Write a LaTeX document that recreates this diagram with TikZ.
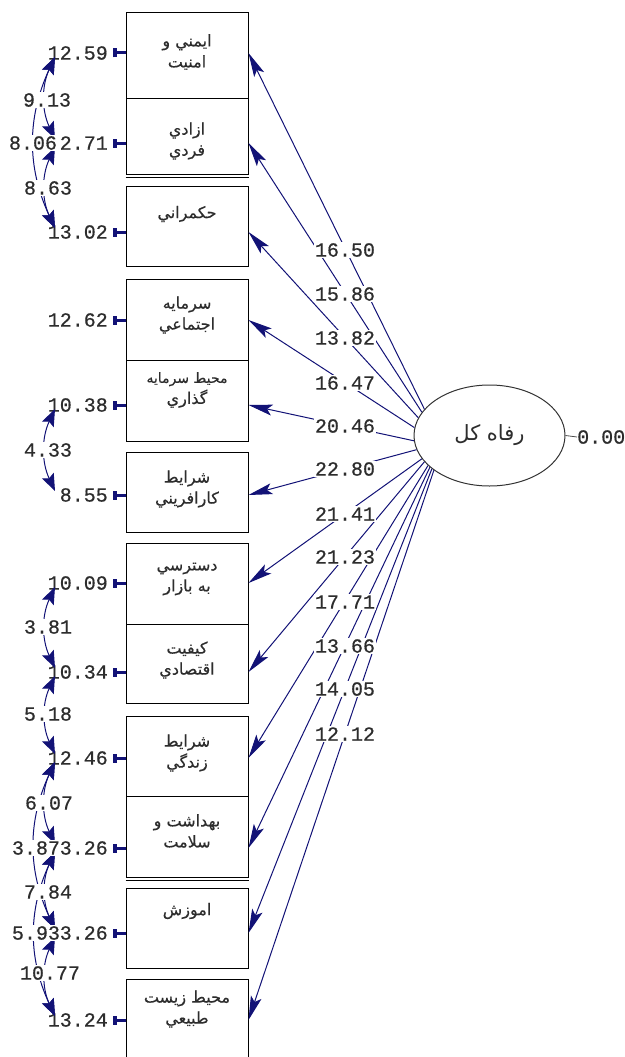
\documentclass[tikz,border=0pt]{standalone}
\usepackage{fontspec}
\usetikzlibrary{arrows.meta,shapes.geometric}
\TeXXeTstate=1
\newfontfamily\arabicfont[Script=Arabic,FakeBold=0.4]{DejaVu Sans}
\newfontfamily\latfont[Script=Arabic]{DejaVu Sans}
\newfontfamily\numfont[FakeBold=0.6]{Liberation Mono}
\definecolor{navy}{RGB}{18,18,118}
\definecolor{txt}{RGB}{45,45,45}
\tikzset{
  obs/.style={draw=black, line width=1pt, minimum width=122pt, inner sep=0pt},
  fa/.style={font=\arabicfont\fontsize{16}{21}\selectfont, text=txt, align=center, inner sep=0pt},
  num/.style={font=\numfont\fontsize{20}{20}\selectfont, text=txt, inner sep=0pt},
  lbl/.style={num, fill=white, inner sep=1.2pt},
  load/.style={draw=navy, line width=1pt, -{Stealth[length=24pt,width=11pt,inset=5pt]}},
  errarr/.style={draw=navy, line width=3pt, {Bar[width=9pt,line width=4pt]}-},
  cov/.style={draw=navy, line width=1pt, {Stealth[length=17pt,width=13pt,inset=3pt]}-{Stealth[length=17pt,width=13pt,inset=3pt]}, bend right=25},
  latent/.style={ellipse, draw=black!80, line width=1pt, minimum width=151pt, minimum height=101pt, inner sep=0pt},
}
\begin{document}
\begin{tikzpicture}[x=1pt,y=1pt]
\useasboundingbox (0,0) rectangle (624,-1057);
% observed boxes
\node[obs, minimum height=85pt] (b1) at (187,-55.5) {};
\node[obs, minimum height=76pt] (b2) at (187,-136) {};
\node[obs, minimum height=80pt] (b3) at (187,-226) {};
\node[obs, minimum height=81pt] (b4) at (187,-319.5) {};
\node[obs, minimum height=81pt] (b5) at (187,-400.5) {};
\node[obs, minimum height=80pt] (b6) at (187,-492) {};
\node[obs, minimum height=81pt] (b7) at (187,-583.5) {};
\node[obs, minimum height=79pt] (b8) at (187,-663.5) {};
\node[obs, minimum height=80pt] (b9) at (187,-756) {};
\node[obs, minimum height=81pt] (b10) at (187,-836.5) {};
\node[obs, minimum height=80pt] (b11) at (187,-928) {};
\node[obs, minimum height=82pt] (b12) at (187,-1020) {};
\draw[line width=1pt] ([yshift=-3pt]b2.south west) -- ([yshift=-3pt]b2.south east);
\draw[line width=1pt] ([yshift=-3pt]b10.south west) -- ([yshift=-3pt]b10.south east);
% box texts
\node[fa] (t1) at (187,-52) {\beginR ايمني و\endR\\\beginR امنيت\endR};
\node[fa] (t2) at (187,-141) {\beginR ازادي\endR\\\beginR فردي\endR};
\node[fa] (t3) at (187,-214) {\beginR حکمراني\endR};
\node[fa] (t4) at (187,-315) {\beginR سرمايه\endR\\\beginR اجتماعي\endR};
\node[fa] (t5) at (187,-390) {{\fontsize{14}{21}\selectfont\beginR محيط سرمايه\endR}\\\beginR گذاري\endR};
\node[fa] (t6) at (187,-489) {\beginR شرايط\endR\\\beginR کارافريني\endR};
\node[fa] (t7) at (187,-579) {\beginR دسترسي\endR\\\beginR به بازار\endR};
\node[fa] (t8) at (187,-660) {\beginR کيفيت\endR\\\beginR اقتصادي\endR};
\node[fa] (t9) at (187,-753) {\beginR شرايط\endR\\\beginR زندگي\endR};
\node[fa] (t10) at (187,-831) {\beginR بهداشت و\endR\\\beginR سلامت\endR};
\node[fa] (t11) at (187,-911) {\beginR اموزش\endR};
\node[fa] (t12) at (187,-1009) {\beginR محيط زيست\endR\\\beginR طبيعي\endR};
% latent
\node[latent] (ell) at (489.5,-435.5) {\latfont\fontsize{21}{21}\selectfont\color{txt}\beginR رفاه کل\endR};
\node[num, anchor=west] (z) at (577,-437) {0.00};
\draw[black!70, line width=0.8pt] (ell.east) -- (z.west);
% error variances
\node[num, anchor=east] (e1) at (108,-53) {12.59};
\node[num, anchor=east] (e2) at (108,-143) {2.71};
\node[num, anchor=east] (e3) at (108,-232) {13.02};
\node[num, anchor=east] (e4) at (108,-320) {12.62};
\node[num, anchor=east] (e5) at (108,-405) {10.38};
\node[num, anchor=east] (e6) at (108,-495) {8.55};
\node[num, anchor=east] (e7) at (108,-583) {10.09};
\node[num, anchor=east] (e8) at (108,-672) {10.34};
\node[num, anchor=east] (e9) at (108,-758) {12.46};
\node[num, anchor=east] (e10) at (108,-848) {3.26};
\node[num, anchor=east] (e11) at (108,-933) {3.26};
\node[num, anchor=east] (e12) at (108,-1020) {13.24};
\foreach \i in {1,...,12}{
  \draw[errarr] ([xshift=5pt]e\i.east) -- (b\i.west |- e\i.east);
}
% covariance end points
\foreach \i/\y in {1/53,2/143,3/232,5/405,6/495,7/583,8/672,9/758,10/848,11/933,12/1020}{
  \coordinate (c\i) at (55,-\y);
}
\draw[cov] ([yshift=-4pt]c1) to ([yshift=4pt]c2);
\draw[cov] ([yshift=-4pt]c1) to ([yshift=4pt]c3);
\draw[cov] ([yshift=-4pt]c2) to ([yshift=4pt]c3);
\draw[cov] ([yshift=-4pt]c5) to ([yshift=4pt]c6);
\draw[cov] ([yshift=-4pt]c7) to ([yshift=4pt]c8);
\draw[cov] ([yshift=-4pt]c8) to ([yshift=4pt]c9);
\draw[cov] ([yshift=-4pt]c9) to ([yshift=4pt]c10);
\draw[cov] ([yshift=-4pt]c9) to ([yshift=4pt]c11);
\draw[cov] ([yshift=-4pt]c10) to ([yshift=4pt]c11);
\draw[cov] ([yshift=-4pt]c10) to ([yshift=4pt]c12);
\draw[cov] ([yshift=-4pt]c11) to ([yshift=4pt]c12);
\node[lbl] (k1) at (47,-100) {9.13};
\node[lbl] (k2) at (33,-143) {8.06};
\node[lbl] (k3) at (48,-188) {8.63};
\node[lbl] (k4) at (48,-450) {4.33};
\node[lbl] (k5) at (48,-627) {3.81};
\node[lbl] (k6) at (48,-714) {5.18};
\node[lbl] (k7) at (49,-803) {6.07};
\node[lbl] (k8) at (36,-848) {3.87};
\node[lbl] (k9) at (48,-892) {7.84};
\node[lbl] (k10) at (36,-933) {5.93};
\node[lbl] (k11) at (50,-973) {10.77};
% loadings
\draw[load] (ell.158.7) -- (b1.east |- e1.east);
\draw[load] (ell.161.7) -- (b2.east |- e2.east);
\draw[load] (ell.166.5) -- (b3.east |- e3.east);
\draw[load] (ell.174.3) -- (b4.east |- e4.east);
\draw[load] (ell.184.2) -- (b5.east |- e5.east);
\draw[load] (ell.191.3) -- (b6.east |- e6.east);
\draw[load] (ell.199.3) -- (b7.east |- e7.east);
\draw[load] (ell.202.3) -- (b8.east |- e8.east);
\draw[load] (ell.206.9) -- (b9.east |- e9.east);
\draw[load] (ell.208.5) -- (b10.east |- e10.east);
\draw[load] (ell.210.2) -- (b11.east |- e11.east);
\draw[load] (ell.212.2) -- (b12.east |- e12.east);
\node[lbl] (p1) at (345,-250) {16.50};
\node[lbl] (p2) at (345,-294) {15.86};
\node[lbl] (p3) at (345,-338) {13.82};
\node[lbl] (p4) at (345,-383) {16.47};
\node[lbl] (p5) at (345,-426) {20.46};
\node[lbl] (p6) at (345,-469) {22.80};
\node[lbl] (p7) at (345,-514) {21.41};
\node[lbl] (p8) at (345,-557) {21.23};
\node[lbl] (p9) at (345,-602) {17.71};
\node[lbl] (p10) at (345,-646) {13.66};
\node[lbl] (p11) at (345,-689) {14.05};
\node[lbl] (p12) at (345,-734) {12.12};
\end{tikzpicture}
\end{document}
